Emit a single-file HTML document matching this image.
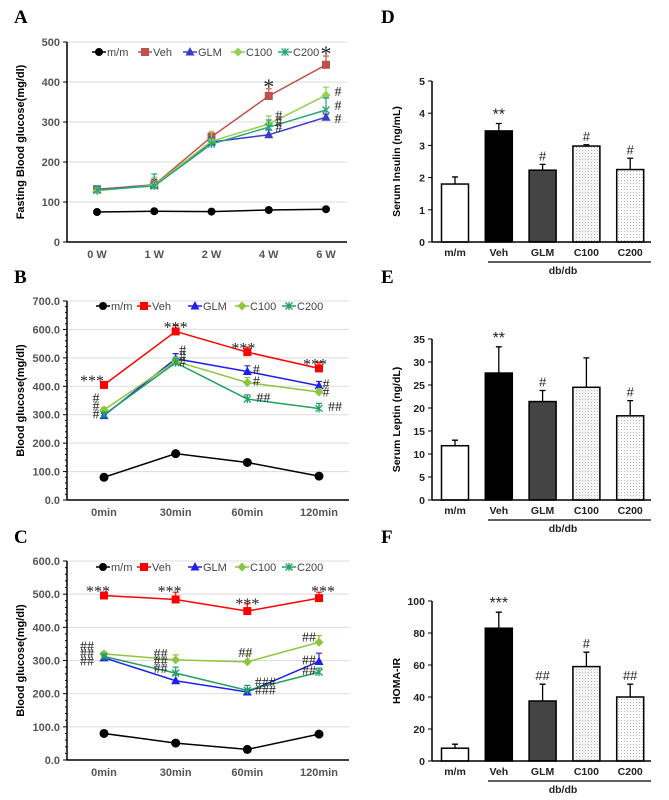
<!DOCTYPE html>
<html><head><meta charset="utf-8"><style>
body{margin:0;background:#fff}
svg{display:block;font-family:"Liberation Sans",Arial,sans-serif}
</style></head><body>
<svg id="fig" width="669" height="800" viewBox="0 0 669 800">
<defs>
<pattern id="dot1" width="3" height="3" patternUnits="userSpaceOnUse"><rect width="3" height="3" fill="#f4f4f4"/><rect width="1" height="1" fill="#bbb"/></pattern>
<pattern id="dot2" width="3" height="3" patternUnits="userSpaceOnUse"><rect width="3" height="3" fill="#fafafa"/><rect width="1" height="1" fill="#bbb"/></pattern>
</defs>
<g font-family="Liberation Serif,serif" font-weight="bold" font-size="19">
<text x="14" y="23">A</text>
<text x="14" y="283">B</text>
<text x="14" y="543">C</text>
<text x="381" y="23">D</text>
<text x="381" y="283">E</text>
<text x="381" y="543">F</text>
</g>
</svg>
<script>
// ---- Panel A data ----
const aCats=['0 W','1 W','2 W','4 W','6 W'];
const aMM=[75,77,76,80,82];
const aVeh=[132,143,263,365,443];
const aGLM=[130,142,250,268,312];
const aC100=[128,142,252,295,367];
const aC200=[130,140,245,287,330];
const aErrVeh=[8,12,10,18,22];
const aErrGLM=[8,15,12,12,8];
const aErrC100=[8,20,25,20,20];
const aErrC200=[10,30,15,18,30];
const aTicks=[0,100,200,300,400,500];
const aAnnot=[[3,395,0,'*'],[4,477,0,'*'],[3,318,10,'#'],[3,303,10,'#'],[3,288,10,'#'],[4,378,12,'#'],[4,342,12,'#'],[4,310,12,'#']];
// ---- Panel B data ----
const bCats=['0min','30min','60min','120min'];
const bMM=[80,163,132,84];
const bVeh=[405,593,520,463];
const bGLM=[297,497,452,402];
const bC100=[317,488,413,380];
const bC200=[300,483,355,322];
const bErrVeh=[5,22,18,22];
const bErrGLM=[8,18,20,15];
const bErrC100=[8,15,18,12];
const bErrC200=[8,15,15,18];
const bTicks=[0,100,200,300,400,500,600,700];
const bAnnot=[[0,418,-12,'***'],[1,607,0,'***'],[2,533,-4,'***'],[3,476,-4,'***'],[0,360,-8,'#'],[0,333,-8,'#'],[0,305,-8,'#'],[1,530,7,'#'],[1,508,7,'#'],[1,488,7,'#'],[2,460,9,'#'],[2,420,9,'#'],[2,362,16,'##'],[3,410,7,'#'],[3,382,7,'#'],[3,330,16,'##']];
// ---- Panel C data ----
const cCats=['0min','30min','60min','120min'];
const cMM=[80,51,32,78];
const cVeh=[496,484,449,488];
const cGLM=[308,239,205,297];
const cC100=[320,302,296,355];
const cC200=[312,262,210,265];
const cErrVeh=[4,22,22,18];
const cErrGLM=[6,18,8,25];
const cErrC100=[6,15,20,20];
const cErrC200=[6,18,15,12];
const cTicks=[0,100,200,300,400,500,600];
const cAnnot=[[0,508,-6,'***'],[1,508,-6,'***'],[2,470,0,'***'],[3,508,4,'***'],[0,345,-17,'##'],[0,322,-17,'##'],[0,300,-17,'##'],[1,323,-15,'##'],[1,300,-15,'##'],[1,277,-15,'##'],[2,325,-2,'##'],[2,237,18,'###'],[2,212,18,'###'],[3,372,-10,'##'],[3,303,-10,'##'],[3,272,-10,'##']];
// ---- Bar data ----
const barCats=['m/m','Veh','GLM','C100','C200'];
const dVals=[1.8,3.45,2.23,2.98,2.25];
const dErr=[0.22,0.23,0.18,0.04,0.35];
const dSig=['','**','#','#','#'];
const dTicks=[0,1,2,3,4,5];
const eVals=[11.8,27.6,21.4,24.5,18.3];
const eErr=[1.2,5.7,2.4,6.4,3.3];
const eSig=['','**','#','','#'];
const eTicks=[0,5,10,15,20,25,30,35];
const fVals=[8,83,37.5,59,40];
const fErr=[2.5,10,10.5,9,8];
const fSig=['','***','##','#','##'];
const fTicks=[0,20,40,60,80,100];

const NS='http://www.w3.org/2000/svg';
const svg=document.getElementById('fig');
function mk(tag,attrs,parent,name,inter){const e=document.createElementNS(NS,tag);for(const k in attrs)e.setAttribute(k,attrs[k]);


(parent||svg).appendChild(e);return e;}

function marker(g,type,x,y,col,name,cr){
 if(type==='circle')mk('circle',{cx:x,cy:y,r:cr||4,fill:col},g,name);
 else if(type==='square')mk('rect',{x:x-4,y:y-4,width:8,height:8,fill:col},g,name);
 else if(type==='tri')mk('path',{d:`M${x},${y-5}L${x+4.5},${y+3.5}L${x-4.5},${y+3.5}Z`,fill:col},g,name);
 else if(type==='dia')mk('path',{d:`M${x},${y-4.5}L${x+4.5},${y}L${x},${y+4.5}L${x-4.5},${y}Z`,fill:col},g,name);
 else mk('path',{d:`M${x-3.5},${y-3.5}L${x+3.5},${y+3.5}M${x+3.5},${y-3.5}L${x-3.5},${y+3.5}M${x},${y-4}L${x},${y+4}`,stroke:col,'stroke-width':1.3,fill:'none'},g,name);
}

function linePanel(id,o){
 const g=mk('g',{},svg,'panel-'+id);
 const y=v=>o.y0-(v/o.vmax)*(o.y0-o.y1);
 const x=i=>o.xs[0]+i*(o.xs[1]-o.xs[0])/(o.cats.length-1);
 o.ticks.forEach(t=>{
  if(t>0)mk('line',{x1:o.ax,x2:o.xr,y1:y(t),y2:y(t),stroke:'#dcdcdc','stroke-width':1},g,'gridline');
  mk('line',{x1:o.ax-4,x2:o.ax,y1:y(t),y2:y(t),stroke:'#000'},g,'y-tick');
  const tx=mk('text',{x:o.ax-7,y:y(t)+4,'text-anchor':'end','font-size':11,'font-weight':'bold',fill:'#555'},g,'y-tick-label');tx.textContent=o.fmt(t);
 });
 for(let k=0;k<o.ticks.length-1;k++)for(let m=1;m<5&&o.minor;m++){const v=o.ticks[k]+(o.ticks[1]-o.ticks[0])*m/5;mk('line',{x1:o.ax-2,x2:o.ax,y1:y(v),y2:y(v),stroke:'#000'},g,'y-minor-tick');}
 mk('line',{x1:o.ax,x2:o.ax,y1:o.y0,y2:o.y1,stroke:'#000','stroke-width':1.5},g,'y-axis');
 mk('line',{x1:o.ax,x2:o.xr,y1:o.y0,y2:o.y0,stroke:'#000','stroke-width':1.5},g,'x-axis');
 o.cats.forEach((c,i)=>{const t=mk('text',{x:x(i),y:o.y0+16,'text-anchor':'middle','font-size':11,'font-weight':'bold',fill:'#555'},g,'x-tick-label');t.textContent=c;});
 const yl=mk('text',{x:0,y:0,transform:`translate(${o.ylx},${(o.y0+o.y1)/2}) rotate(-90)`,'text-anchor':'middle','font-size':11,'font-weight':'bold'},g,'y-axis-title');yl.textContent=o.ytitle;
 o.series.forEach(s=>{
  const sg=mk('g',{},g,'series-'+s.n.toLowerCase().replace('/',''));
  s.err&&s.v.forEach((v,i)=>{mk('path',{d:`M${x(i)},${y(v)}V${y(v+s.err[i])}M${x(i)-3},${y(v+s.err[i])}H${x(i)+3}`,stroke:s.c,'stroke-width':1.2,fill:'none'},sg,'error-bar');});
  mk('polyline',{points:s.v.map((v,i)=>x(i)+','+y(v)).join(' '),fill:'none',stroke:s.c,'stroke-width':1.5},sg,'series-line');
  s.v.forEach((v,i)=>marker(sg,s.m,x(i),y(v),s.c,'data-point',o.cr));
 });
 o.series.forEach((s,i)=>{const lx=o.leg[i];
  mk('line',{x1:lx,x2:lx+14,y1:o.legY,y2:o.legY,stroke:s.c,'stroke-width':1.5},g,'legend-line');
  marker(g,s.m,lx+7,o.legY,s.c,'legend-marker');
  const t=mk('text',{x:lx+15,y:o.legY+4,'font-size':11,fill:'#444'},g,'legend-entry');t.textContent=s.n;});
 o.annot.forEach(a=>{const star=a[3].includes('*');const t=mk('text',{x:x(a[0])+a[2],y:y(a[1])+(star&&o.big?10:5),'text-anchor':'middle','font-size':star?(o.big?22:16):14,'font-family':'Liberation Serif,serif',fill:'#222'},g,'significance-mark');t.textContent=a[3];});
}

linePanel('a',{cats:aCats,ax:67,xr:347,y0:242,y1:42,vmax:500,xs:[97,326],ticks:aTicks,fmt:t=>t,minor:false,ylx:24,ytitle:'Fasting Blood glucose(mg/dl)',legY:52,leg:[92,138,183,231,278],annot:aAnnot,big:true,
 series:[{n:'m/m',v:aMM,c:'#000',m:'circle'},{n:'Veh',v:aVeh,err:aErrVeh,c:'#c0504d',m:'square'},{n:'GLM',v:aGLM,err:aErrGLM,c:'#3a3acc',m:'tri'},{n:'C100',v:aC100,err:aErrC100,c:'#92d050',m:'dia'},{n:'C200',v:aC200,err:aErrC200,c:'#2aa57a',m:'star'}]});
linePanel('b',{cats:bCats,ax:67,xr:349,y0:500,y1:301,vmax:700,xs:[104,319],ticks:bTicks,fmt:t=>t.toFixed(1),minor:true,ylx:24,ytitle:'Blood glucose(mg/dl)',legY:306,leg:[96,137,188,235,282],annot:bAnnot,cr:4.5,
 series:[{n:'m/m',v:bMM,c:'#000',m:'circle'},{n:'Veh',v:bVeh,err:bErrVeh,c:'#ff0000',m:'square'},{n:'GLM',v:bGLM,err:bErrGLM,c:'#2020ee',m:'tri'},{n:'C100',v:bC100,err:bErrC100,c:'#8cc63f',m:'dia'},{n:'C200',v:bC200,err:bErrC200,c:'#1fa060',m:'star'}]});
linePanel('c',{cats:cCats,ax:67,xr:349,y0:760,y1:561,vmax:600,xs:[104,319],ticks:cTicks,fmt:t=>t.toFixed(1),minor:true,ylx:24,ytitle:'Blood glucose(mg/dl)',legY:567,leg:[96,137,188,235,282],annot:cAnnot,cr:4.5,
 series:[{n:'m/m',v:cMM,c:'#000',m:'circle'},{n:'Veh',v:cVeh,err:cErrVeh,c:'#ff0000',m:'square'},{n:'GLM',v:cGLM,err:cErrGLM,c:'#2020ee',m:'tri'},{n:'C100',v:cC100,err:cErrC100,c:'#8cc63f',m:'dia'},{n:'C200',v:cC200,err:cErrC200,c:'#1fa060',m:'star'}]});

const barFills=['#fff','#000','#444','url(#dot1)','url(#dot2)'];
function barPanel(id,o){
 const g=mk('g',{},svg,'panel-'+id);
 const y=v=>o.y0-(v/o.vmax)*(o.y0-o.y1);
 const x=i=>455+i*43.8;
 o.ticks.forEach(t=>{mk('line',{x1:o.ax-4,x2:o.ax,y1:y(t),y2:y(t),stroke:'#000'},g,'y-tick');
  const tx=mk('text',{x:o.ax-7,y:y(t)+4,'text-anchor':'end','font-size':10.5,'font-weight':'bold',fill:'#222'},g,'y-tick-label');tx.textContent=t;});
 o.vals.forEach((v,i)=>{
  mk('path',{d:`M${x(i)},${y(v)}V${y(v+o.err[i])}M${x(i)-3},${y(v+o.err[i])}H${x(i)+3}`,stroke:'#000','stroke-width':1.3},g,'error-bar');
  mk('rect',{x:x(i)-13.5,y:y(v),width:27,height:o.y0-y(v),fill:barFills[i],stroke:'#000','stroke-width':1.5},g,'bar-'+o.cats[i].toLowerCase().replace('/',''));
  if(o.sig[i]){const t=mk('text',{x:x(i),y:y(v+o.err[i])-4,'text-anchor':'middle','font-size':o.sig[i].includes('*')?16:13,fill:'#222'},g,'significance-mark');t.textContent=o.sig[i];}
  const l=mk('text',{x:x(i),y:o.y0+14,'text-anchor':'middle','font-size':10.5,'font-weight':'bold',fill:'#222'},g,'x-tick-label');l.textContent=o.cats[i];
 });
 mk('line',{x1:o.ax,x2:o.ax,y1:o.y0,y2:o.y1,stroke:'#000','stroke-width':1.5},g,'y-axis');
 mk('line',{x1:o.ax,x2:651,y1:o.y0,y2:o.y0,stroke:'#000','stroke-width':1.5},g,'x-axis');
 mk('line',{x1:488,x2:651,y1:o.y0+20,y2:o.y0+20,stroke:'#000','stroke-width':1.2},g,'group-bracket');
 const d=mk('text',{x:563,y:o.y0+32,'text-anchor':'middle','font-size':10.5,'font-weight':'bold',fill:'#222'},g,'group-label');d.textContent='db/db';
 const yl=mk('text',{transform:`translate(${o.ylx},${(o.y0+o.y1)/2}) rotate(-90)`,'text-anchor':'middle','font-size':10.5,'font-weight':'bold'},g,'y-axis-title');yl.textContent=o.ytitle;
}
barPanel('d',{cats:barCats,vals:dVals,err:dErr,sig:dSig,ticks:dTicks,vmax:5,y0:242,y1:81,ax:432,ylx:400,ytitle:'Serum Insulin (ng/mL)'});
barPanel('e',{cats:barCats,vals:eVals,err:eErr,sig:eSig,ticks:eTicks,vmax:35,y0:500,y1:339,ax:432,ylx:400,ytitle:'Serum Leptin (ng/dL)'});
barPanel('f',{cats:barCats,vals:fVals,err:fErr,sig:fSig,ticks:fTicks,vmax:100,y0:761,y1:601,ax:432,ylx:400,ytitle:'HOMA-IR'});
</script>
</body></html>
